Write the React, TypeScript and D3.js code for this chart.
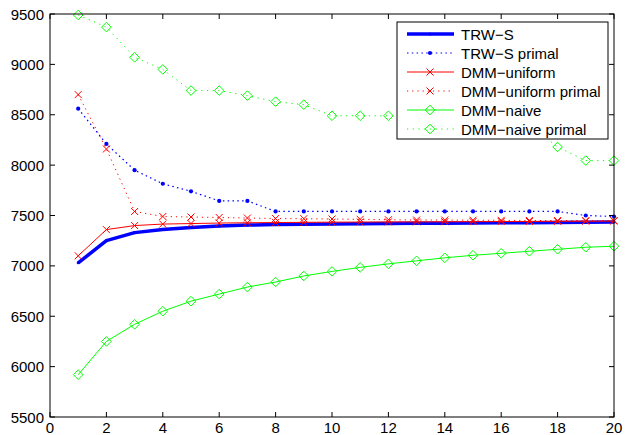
import React from "react"
import * as d3 from "d3"

const iterations = d3.range(1, 21)

const trws = [7030, 7250, 7330, 7360, 7380, 7395, 7405, 7410, 7412, 7415, 7418, 7420, 7422, 7424, 7425, 7427, 7428, 7430, 7432, 7435]
const trwsPrimal = [8560, 8210, 7950, 7815, 7740, 7645, 7645, 7540, 7540, 7540, 7540, 7540, 7540, 7540, 7540, 7540, 7540, 7540, 7500, 7490]
const dmmUniform = [7100, 7360, 7400, 7415, 7420, 7425, 7428, 7430, 7432, 7434, 7435, 7436, 7437, 7438, 7439, 7440, 7441, 7442, 7443, 7444]
const dmmUniformPrimal = [8700, 8160, 7540, 7490, 7485, 7480, 7475, 7470, 7468, 7465, 7462, 7458, 7455, 7455, 7453, 7452, 7451, 7450, 7450, 7450]
const dmmNaive = [5920, 6250, 6420, 6550, 6650, 6720, 6790, 6840, 6900, 6945, 6985, 7020, 7050, 7080, 7105, 7125, 7145, 7165, 7185, 7195]
const dmmNaivePrimal = [9490, 9370, 9070, 8950, 8740, 8740, 8690, 8630, 8600, 8490, 8490, 8490, 8480, 8460, 8440, 8420, 8400, 8180, 8045, 8045]

const xTicks = d3.range(0, 21, 2)
const yTicks = d3.range(5500, 9501, 500)

type Series = {
  name: string
  values: number[]
  color: string
  width: number
  dash?: string
  marker: "dot" | "x" | "diamond"
  markerSize: number
}

const series: Series[] = [
  { name: "TRW\u2212S", values: trws, color: "#0000ff", width: 3.5, marker: "dot", markerSize: 1.5 },
  { name: "TRW\u2212S primal", values: trwsPrimal, color: "#0000ff", width: 1.2, dash: "1.5,3.3", marker: "dot", markerSize: 2.1 },
  { name: "DMM\u2212uniform", values: dmmUniform, color: "#ff0000", width: 1, marker: "x", markerSize: 3.5 },
  { name: "DMM\u2212uniform primal", values: dmmUniformPrimal, color: "#ff0000", width: 1, dash: "1.2,4", marker: "x", markerSize: 3.5 },
  { name: "DMM\u2212naive", values: dmmNaive, color: "#00ff00", width: 1, marker: "diamond", markerSize: 4.8 },
  { name: "DMM\u2212naive primal", values: dmmNaivePrimal, color: "#00ff00", width: 1, dash: "1.2,4.5", marker: "diamond", markerSize: 4.8 },
]

const W = 627
const H = 435
const left = 50
const right = 614
const top = 14
const bottom = 417
const font = "'Liberation Sans', Arial, Helvetica, sans-serif"

const Marker = ({ s, cx, cy }: { s: Series; cx: number; cy: number }) => {
  const r = s.markerSize
  if (s.marker === "dot") return <circle cx={cx} cy={cy} r={r} fill={s.color} />
  if (s.marker === "x")
    return (
      <path
        d={`M${cx - r},${cy - r}L${cx + r},${cy + r}M${cx - r},${cy + r}L${cx + r},${cy - r}`}
        stroke={s.color}
        strokeWidth={1}
        fill="none"
      />
    )
  return (
    <path
      d={`M${cx},${cy - r}L${cx + r},${cy}L${cx},${cy + r}L${cx - r},${cy}Z`}
      stroke={s.color}
      strokeWidth={1}
      fill="none"
    />
  )
}

const App = () => {
  const x = d3.scaleLinear().domain([0, 20]).range([left, right])
  const y = d3.scaleLinear().domain([5500, 9500]).range([bottom, top])

  const line = d3
    .line<number>()
    .x((_, i) => x(iterations[i]))
    .y((d) => y(d))

  // legend box
  const lg = { x: 397, y: 22, w: 211, h: 117, row: 19 }

  return (
    <svg
      width={W}
      height={H}
      style={{ position: "absolute", left: 0, top: 0, background: "#fff" }}
      fontFamily={font}
    >
      <rect x={0} y={0} width={W} height={H} fill="#fff" />

      {series.map((s) => (
        <g key={s.name}>
          <path
            d={line(s.values) || ""}
            fill="none"
            stroke={s.color}
            strokeWidth={s.width}
            strokeDasharray={s.dash}
            strokeLinejoin="round"
          />
          {s.values.map((v, i) => (
            <Marker key={i} s={s} cx={x(iterations[i])} cy={y(v)} />
          ))}
        </g>
      ))}

      {/* frame */}
      <rect x={left} y={top} width={right - left} height={bottom - top} fill="none" stroke="#000" strokeWidth={1} />

      {xTicks.map((t) => (
        <g key={t}>
          <line x1={x(t)} x2={x(t)} y1={bottom} y2={bottom - 5} stroke="#000" />
          <line x1={x(t)} x2={x(t)} y1={top} y2={top + 5} stroke="#000" />
          <text x={x(t)} y={432.5} fontSize={15} textAnchor="middle">
            {t}
          </text>
        </g>
      ))}

      {yTicks.map((t) => (
        <g key={t}>
          <line x1={left} x2={left + 5} y1={y(t)} y2={y(t)} stroke="#000" />
          <line x1={right} x2={right - 5} y1={y(t)} y2={y(t)} stroke="#000" />
          <text x={44} y={y(t) + 5.5} fontSize={15} textAnchor="end">
            {t}
          </text>
        </g>
      ))}

      {/* legend */}
      <rect x={lg.x} y={lg.y} width={lg.w} height={lg.h} fill="#fff" stroke="#000" strokeWidth={1} />
      {series.map((s, i) => {
        const cy = lg.y + 12 + i * lg.row
        return (
          <g key={s.name}>
            <line
              x1={407}
              x2={454}
              y1={cy}
              y2={cy}
              stroke={s.color}
              strokeWidth={s.width}
              strokeDasharray={s.dash}
            />
            <Marker s={s} cx={430} cy={cy} />
            <text x={461} y={cy + 5.5} fontSize={15}>
              {s.name}
            </text>
          </g>
        )
      })}
    </svg>
  )
}

export default App
